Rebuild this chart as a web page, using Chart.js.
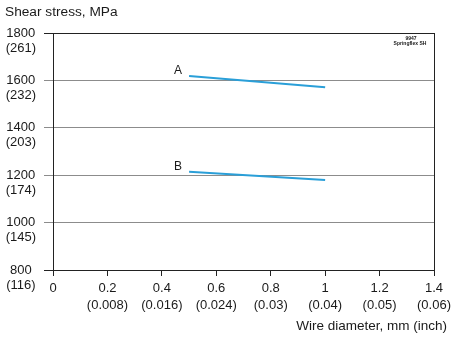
<!DOCTYPE html>
<html>
<head>
<meta charset="utf-8">
<script src="https://cdn.jsdelivr.net/npm/chart.js@4"></script>
<style>
  html, body { margin: 0; padding: 0; background: #fff; }
  #wrap { width: 455px; height: 338px; }
</style>
</head>
<body>
<div id="wrap"><canvas id="myChart"></canvas></div>
<script>
// data
const diameters = [0.5, 1.0];
const seriesA = [1619, 1571];
const seriesB = [1215, 1180];
const seriesNames = ['A', 'B'];
const yMpa = ['800', '1000', '1200', '1400', '1600', '1800'];
const yKsi = ['(116)', '(145)', '(174)', '(203)', '(232)', '(261)'];
const xMm = ['0', '0.2', '0.4', '0.6', '0.8', '1', '1.2', '1.4'];
const xInch = ['', '(0.008)', '(0.016)', '(0.024)', '(0.03)', '(0.04)', '(0.05)', '(0.06)'];

const FONT = "'Liberation Sans', Arial, Helvetica, sans-serif";
const TEXT = '#1a1a1a';
const LINE = '#2a9fd8';

const textPlugin = {
  id: 'texts',
  afterDraw(chart) {
    const c = chart.ctx;
    c.save();
    c.fillStyle = TEXT;
    c.font = '13.7px ' + FONT;
    c.textAlign = 'left';
    c.textBaseline = 'middle';
    c.fillText('Shear stress, MPa', 5, 12);
    c.textAlign = 'right';
    c.font = '13.5px ' + FONT;
    c.fillText('Wire diameter, mm (inch)', 447, 326);

    // series letters next to the first point of each line
    c.font = '12px ' + FONT;
    c.textAlign = 'right';
    c.textBaseline = 'alphabetic';
    chart.data.datasets.forEach((ds, i) => {
      const pt = chart.getDatasetMeta(i).data[0];
      c.fillText(seriesNames[i], pt.x - 7, pt.y - 2);
    });

    // small stamp
    c.font = 'bold 5px ' + FONT;
    c.textAlign = 'center';
    c.textBaseline = 'middle';
    c.fillText('9947', 411, 39);
    c.fillText('Springflex SH', 410, 44);
    c.restore();
  }
};

const ctx = document.getElementById('myChart').getContext('2d');
new Chart(ctx, {
  type: 'line',
  data: {
    datasets: [
      {
        label: seriesNames[0],
        data: diameters.map((d, i) => ({x: d, y: seriesA[i]})),
        borderColor: LINE,
        borderWidth: 2,
        pointRadius: 0
      },
      {
        label: seriesNames[1],
        data: diameters.map((d, i) => ({x: d, y: seriesB[i]})),
        borderColor: LINE,
        borderWidth: 2,
        pointRadius: 0
      }
    ]
  },
  options: {
    responsive: true,
    maintainAspectRatio: false,
    animation: false,
    layout: { padding: { top: 33, right: 19, left: 0, bottom: 0 } },
    plugins: {
      legend: { display: false },
      tooltip: { enabled: false }
    },
    scales: {
      x: {
        type: 'linear',
        min: 0,
        max: 1.4,
        ticks: {
          stepSize: 0.2,
          color: TEXT,
          padding: 4,
          font: { family: FONT, size: 13, lineHeight: 1.3 },
          maxRotation: 0,
          autoSkip: false,
          callback: (v, i) => xInch[i] ? [xMm[i], xInch[i]] : xMm[i]
        },
        grid: {
          color: c => (c.tick && c.tick.value === 1.4) ? '#222' : 'rgba(0,0,0,0)',
          tickColor: '#222',
          tickLength: 6,
          lineWidth: 1
        },
        border: { color: '#222', width: 1 },
        afterFit: s => { s.height = 68; }
      },
      y: {
        min: 800,
        max: 1800,
        ticks: {
          stepSize: 200,
          color: TEXT,
          padding: 8,
          crossAlign: 'center',
          labelOffset: 7.5,
          font: { family: FONT, size: 13, lineHeight: 1.15 },
          callback: (v, i) => [yMpa[i], yKsi[i]]
        },
        grid: {
          color: c => (c.tick && (c.tick.value === 1800 || c.tick.value === 800)) ? '#222' : '#8c8c8c',
          tickLength: 9,
          lineWidth: 1
        },
        border: { color: '#222', width: 1 },
        afterFit: s => { s.width = 53; }
      }
    }
  },
  plugins: [textPlugin]
});
</script>
</body>
</html>
